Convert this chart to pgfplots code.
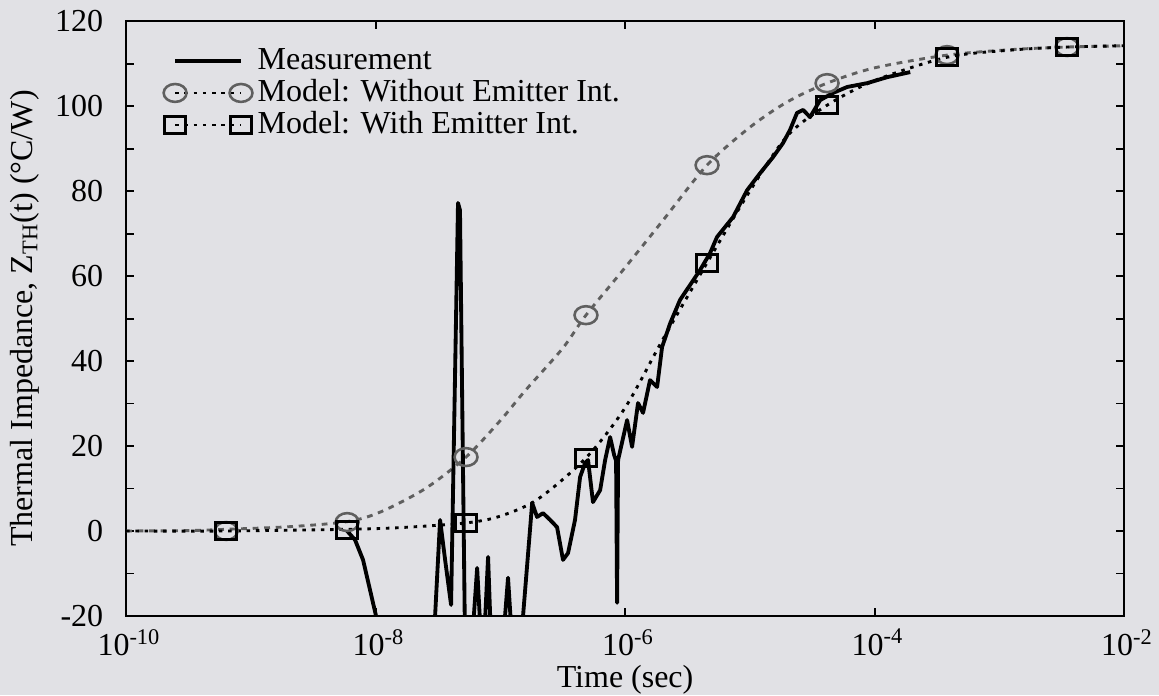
\documentclass[border=0pt]{standalone}
\usepackage{fontspec}
\setmainfont{Liberation Serif}
\usepackage{pgfplots}
\pgfplotsset{compat=1.18}
\usetikzlibrary{backgrounds}
\definecolor{bgc}{RGB}{225,225,229}
\definecolor{mgray}{RGB}{95,95,95}

\begin{document}
\begin{tikzpicture}
\begin{axis}[name=ax, scale only axis, width=311.9pt, height=185.9pt,
  xmode=log, xmin=1e-10, xmax=1e-2, ymin=-20, ymax=120,
  xtick={1e-10,1e-8,1e-6,1e-4,1e-2},
  xticklabels={10\textsuperscript{-10},10\textsuperscript{-8},10\textsuperscript{-6},10\textsuperscript{-4},10\textsuperscript{-2}},
  xminorticks=false,
  ytick={-20,0,20,40,60,80,100,120},
  yticklabels={-20,0,20,40,60,80,100,120},
  minor ytick={-10,10,30,50,70,90,110},
  major tick length=2.6pt, minor tick length=2.6pt,
  tick style={black, line width=0.6pt},
  axis line style={line width=0.7pt},
  tick label style={font=\fontsize{10}{12}\selectfont},
  yticklabel style={xshift=-3.6pt},
  xticklabel style={yshift=-0.6pt, xshift=1pt},
  every axis x label/.style={at={(rel axis cs:0.5,0)}, yshift=-20pt, anchor=center},
  every axis y label/.style={at={(rel axis cs:0,0.5)}, xshift=-31.6pt, rotate=90, anchor=center},
  xlabel={Time (sec)},
  ylabel={Thermal Impedance, Z\textsubscript{TH}(t) (°C/W)},
  legend image code/.code={\draw[#1] plot coordinates {(0pt,0pt) (20.6pt,0pt)};},
  legend cell align=left,
  legend style={draw=none, fill=none, at={(0.037,0.961)}, anchor=north west,
    inner sep=0pt, row sep=0pt,
    nodes={inner xsep=1.6pt, inner ysep=0.7pt, text height=7pt, text depth=1.6pt}},
]
% model curve: without emitter interconnect
\addplot[mgray, line width=0.9pt, dash pattern=on 1.8pt off 1.8pt, smooth, forget plot] table {
1e-10 0
3.16e-10 0.1
6.34e-10 0.4
2.0e-9 1.0
5.92e-9 2.2
1.10e-8 4.5
2.51e-8 10
5.31e-8 17.4
1e-7 26
1.58e-7 33
3.16e-7 43
4.86e-7 50.8
1e-6 62
2.0e-6 73
4.54e-6 86.1
1e-5 95
2.0e-5 101
4.16e-5 105.4
1e-4 109
3.81e-4 112.0
1.26e-3 113.3
3.49e-3 113.9
1e-2 114.2
};
% model curve: with emitter interconnect
\addplot[black, line width=0.9pt, dash pattern=on 1.1pt off 1.8pt, smooth, forget plot] table {
1e-10 0
6.34e-10 0
5.92e-9 0.4
1.58e-8 0.8
5.31e-8 1.9
1e-7 3.5
2.0e-7 7.5
4.86e-7 17.2
1e-6 29
2.0e-6 45
4.54e-6 63.1
1e-5 80
2.0e-5 93
4.16e-5 100.2
1e-4 106
3.81e-4 111.5
1.26e-3 113.2
3.49e-3 113.9
1e-2 114.2
};
% markers
\addplot[only marks, mark=o, mark size=2.8pt, mgray, mark options={xscale=1.28, line width=0.8pt}, forget plot] table {
6.34e-10 0
5.92e-9 2.1
5.31e-8 17.4
4.86e-7 50.8
4.54e-6 86.1
4.16e-5 105.4
3.81e-4 112.0
3.49e-3 113.9
};
\addplot[only marks, mark=square, mark size=2.65pt, black, mark options={xscale=1.25, line width=0.9pt}, forget plot] table {
6.34e-10 0
5.92e-9 0.3
5.31e-8 1.9
4.86e-7 17.2
4.54e-6 63.1
4.16e-5 100.2
3.81e-4 111.5
3.49e-3 113.9
};
% measurement
\addplot[black, line width=1.2pt, line join=round, forget plot] table {
5.92e-9 0
6.85e-9 -2.1
7.94e-9 -6.8
1.009e-8 -20
1.127e-8 -26
2.735e-8 -26
3.0e-8 -20
3.29e-8 2.6
3.61e-8 -6.8
4.03e-8 -17.4
4.58e-8 77.2
4.75e-8 75.5
5.21e-8 -25.6
5.94e-8 -26
6.52e-8 -8.7
7.01e-8 -26
7.41e-8 -26
7.98e-8 -6.1
8.43e-8 -26
1.052e-7 -26
1.153e-7 -11
1.242e-7 -26
1.439e-7 -26
1.521e-7 -20
1.80e-7 6.6
1.97e-7 3.3
2.20e-7 4.2
2.51e-7 2.6
2.85e-7 0.9
3.18e-7 -6.8
3.49e-7 -5.2
3.97e-7 2.6
4.36e-7 12.7
4.78e-7 16.0
5.05e-7 16.7
5.53e-7 6.8
6.31e-7 9.6
6.92e-7 16.7
7.59e-7 22.1
8.17e-7 17.9
8.47e-7 16.5
8.63e-7 -16.9
8.79e-7 16.7
1.038e-6 26.1
1.138e-6 19.8
1.27e-6 30.1
1.393e-6 27.8
1.585e-6 35.5
1.807e-6 33.9
1.98e-6 43.3
2.30e-6 48.9
2.76e-6 54.4
3.32e-6 57.9
3.99e-6 61.4
4.80e-6 65.4
5.46e-6 69.2
7.35e-6 73.9
9.51e-6 80.2
1.208e-5 84.2
1.535e-5 88.0
1.845e-5 91.3
2.10e-5 94.4
2.39e-5 98.4
2.67e-5 99.1
3.04e-5 97.4
3.66e-5 101.4
4.65e-5 103.1
6.03e-5 104.5
8.71e-5 105.4
1.259e-4 106.8
1.93e-4 108.0
};
% legend
\addlegendimage{black, line width=1.2pt, mark=none}
\addlegendentry{Measurement}
\addlegendimage{black, line width=0.9pt, dash pattern=on 1.1pt off 1.8pt, mark=o, mark size=2.8pt, mark options={solid, mgray, xscale=1.28, line width=0.8pt}}
\addlegendentry{Model: Without Emitter Int.}
\addlegendimage{black, line width=0.9pt, dash pattern=on 1.1pt off 1.8pt, mark=square, mark size=2.65pt, mark options={solid, black, xscale=1.25, line width=0.9pt}}
\addlegendentry{Model: With Emitter Int.}
\end{axis}
\begin{scope}[on background layer]
\fill[bgc] ([shift={(-39.4pt,-24.7pt)}]ax.south west) rectangle ([shift={(10.9pt,6.6pt)}]ax.north east);
\end{scope}
\pgfresetboundingbox
\path ([shift={(-39.4pt,-24.7pt)}]ax.south west) rectangle ([shift={(10.9pt,6.6pt)}]ax.north east);
\end{tikzpicture}
\end{document}
